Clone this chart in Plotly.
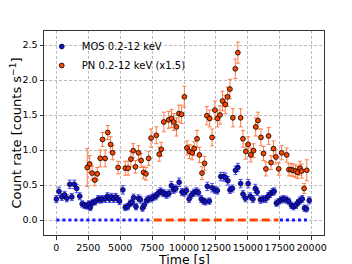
import plotly.graph_objects as go

# MOS 0.2-12 keV light curve
mos_t = [0, 200, 430, 640, 820, 1050, 1210, 1400, 1590, 1830, 2020, 2200, 2390, 2550, 2660,
         2850, 3040, 3280, 3440, 3600, 3820, 4000, 4170, 4330, 4490, 4650, 4810, 4950, 5210,
         5400, 5590, 5780, 5940, 6050, 6240, 6430, 6590, 6750, 6880, 7070, 7230, 7450, 7610,
         7800, 7960, 8150, 8310, 8470, 8630, 8820, 9010, 9190, 9360, 9620, 9840, 10030, 10190,
         10400, 10590, 10780, 10970, 11130, 11350, 11530, 11680, 11830, 11990, 12200, 12420,
         12610, 12880, 13090, 13250, 13440, 13600, 13790, 14030, 14220, 14440, 14620, 14810,
         15030, 15190, 15400, 15590, 15730, 15990, 16210, 16400, 16590, 16750, 16940, 17070,
         17240, 17400, 17600, 17800, 18010, 18200, 18420, 18580, 18770, 18930, 19090, 19270,
         19440, 19600, 19810]
mos_rate = [0.30, 0.41, 0.33, 0.36, 0.31, 0.51, 0.33, 0.51, 0.45, 0.34, 0.23, 0.21, 0.20, 0.23, 0.18,
            0.25, 0.26, 0.30, 0.29, 0.30, 0.30, 0.34, 0.30, 0.33, 0.30, 0.33, 0.30, 0.27, 0.43,
            0.18, 0.19, 0.24, 0.25, 0.32, 0.19, 0.31, 0.29, 0.17, 0.21, 0.28, 0.30, 0.31, 0.33,
            0.34, 0.38, 0.41, 0.39, 0.38, 0.36, 0.38, 0.49, 0.43, 0.45, 0.54, 0.40, 0.39, 0.42,
            0.30, 0.36, 0.39, 0.41, 0.39, 0.30, 0.27, 0.26, 0.48, 0.27, 0.46, 0.43,
            0.42, 0.62, 0.62, 0.61, 0.56, 0.43, 0.45, 0.71, 0.75, 0.52, 0.37, 0.31,
            0.52, 0.34, 0.30, 0.45, 0.40, 0.29, 0.30, 0.30, 0.34, 0.37, 0.40, 0.41,
            0.24, 0.26, 0.29, 0.30, 0.29, 0.27, 0.21, 0.19, 0.21, 0.25, 0.28, 0.30,
            0.17, 0.16, 0.28]
mos_err = [0.05, 0.06, 0.05, 0.05, 0.05, 0.06, 0.05, 0.06, 0.06, 0.05, 0.045, 0.045, 0.045, 0.045, 0.045,
           0.045, 0.045, 0.05, 0.05, 0.05, 0.05, 0.05, 0.05, 0.05, 0.05, 0.05, 0.05, 0.05, 0.06,
           0.045, 0.045, 0.045, 0.045, 0.05, 0.045, 0.05, 0.05, 0.045, 0.045, 0.05, 0.05, 0.05, 0.05,
           0.05, 0.05, 0.05, 0.05, 0.05, 0.05, 0.05, 0.06, 0.05, 0.05, 0.06, 0.05, 0.05, 0.05,
           0.05, 0.05, 0.05, 0.05, 0.05, 0.05, 0.045, 0.045, 0.06, 0.045, 0.06, 0.05,
           0.05, 0.06, 0.06, 0.06, 0.06, 0.05, 0.05, 0.06, 0.06, 0.06, 0.05, 0.05,
           0.06, 0.05, 0.05, 0.06, 0.05, 0.05, 0.05, 0.05, 0.05, 0.05, 0.05, 0.05,
           0.045, 0.045, 0.05, 0.05, 0.05, 0.045, 0.045, 0.045, 0.045, 0.045, 0.05, 0.05,
           0.045, 0.045, 0.05]

# PN 0.2-12 keV light curve (scaled x1.5)
pn_t = [2420, 2610, 2800, 3010, 3200, 3440, 3620, 3820, 4030, 4250, 4410, 4840, 5400, 5620,
        5840, 6020, 6200, 6430, 6640, 6830, 7020, 7230, 7420, 7830, 8060, 8220, 8420, 8800,
        9020, 9190, 9410, 9600, 9810, 10030, 10230, 10430, 10640, 10800, 11020, 11210, 11410,
        11610, 11790, 12010, 12200, 12420, 12620, 12820, 13020, 13230, 13410, 13600, 13830,
        14020, 14220, 14440, 14620, 14840, 15030, 15230, 15450, 15620, 15800, 16030, 16230,
        16420, 16630, 16820, 17010, 17200, 17420, 17650, 18050, 18220, 18390, 18550, 18740,
        18900, 19090, 19220, 19410, 19620]
pn_rate = [0.75, 0.80, 0.67, 0.57, 0.66, 0.88, 1.15, 0.88, 1.25, 1.08, 0.96, 0.75, 0.74, 0.74,
           0.87, 0.99, 0.76, 0.96, 0.85, 0.68, 0.66, 0.88, 1.17, 1.21, 0.94, 1.01, 1.40, 1.43,
           1.45, 1.40, 1.33, 1.52, 1.51, 1.76, 1.03, 0.98, 0.96, 1.02, 1.16, 0.93, 0.67,
           0.81, 1.49, 1.45, 1.18, 1.57, 1.45, 1.50, 1.70, 1.65, 1.76, 1.87, 1.46,
           2.16, 2.39, 1.46, 1.16, 0.98, 1.08, 0.93, 0.99, 1.33, 1.42, 1.18, 0.95,
           0.73, 1.20, 0.82, 1.02, 0.90, 0.73, 0.96, 0.93, 0.72, 0.72, 0.71, 0.70,
           0.68, 0.74, 0.70, 0.45, 0.71]
pn_err = [0.27, 0.12, 0.10, 0.08, 0.09, 0.12, 0.10, 0.12, 0.10, 0.11, 0.10, 0.09, 0.10, 0.10,
          0.11, 0.10, 0.09, 0.10, 0.10, 0.09, 0.09, 0.10, 0.13, 0.12, 0.10, 0.10, 0.14, 0.12,
          0.13, 0.12, 0.13, 0.12, 0.13, 0.15, 0.10, 0.10, 0.10, 0.10, 0.12, 0.11, 0.09,
          0.10, 0.13, 0.12, 0.12, 0.13, 0.12, 0.13, 0.14, 0.13, 0.14, 0.14, 0.13,
          0.14, 0.15, 0.13, 0.12, 0.11, 0.11, 0.10, 0.10, 0.13, 0.12, 0.12, 0.10,
          0.10, 0.12, 0.10, 0.11, 0.10, 0.09, 0.10, 0.10, 0.09, 0.09, 0.09, 0.09,
          0.09, 0.10, 0.10, 0.07, 0.15]

half_bin = 100  # s, half of the time bin

# Time intervals marked along y = 0
gti_blue_1 = [0, 7500]
gti_orange = [7630, 17400]
gti_blue_2 = [17520, 19850]

x_ticks = [0, 2500, 5000, 7500, 10000, 12500, 15000, 17500, 20000]
y_ticks = [0.0, 0.5, 1.0, 1.5, 2.0, 2.5]

fig = go.Figure()

for seg, col, dash in [(gti_blue_1, "#1a1aff", "3px,3px"),
                       (gti_orange, "#ff4500", "8px,4px"),
                       (gti_blue_2, "#1a1aff", "3px,3px")]:
    fig.add_trace(go.Scatter(x=seg, y=[0, 0], mode="lines",
                             line=dict(color=col, width=3, dash=dash),
                             showlegend=False, hoverinfo="skip"))

fig.add_trace(go.Scatter(
    x=mos_t, y=mos_rate, mode="markers", name="MOS 0.2-12 keV",
    marker=dict(color="#1212c8", size=4.8, line=dict(color="#000033", width=0.8)),
    error_y=dict(type="data", array=mos_err, color="#4a4aff", thickness=1, width=2),
    error_x=dict(type="constant", value=half_bin, color="#4a4aff", thickness=1, width=0),
))

fig.add_trace(go.Scatter(
    x=pn_t, y=pn_rate, mode="markers", name="PN 0.2-12 keV (x1.5)",
    marker=dict(color="#ff4500", size=4.8, line=dict(color="#1a0a00", width=0.9)),
    error_y=dict(type="data", array=pn_err, color="#ff7a45", thickness=1, width=2),
    error_x=dict(type="constant", value=half_bin, color="#ff7a45", thickness=1, width=0),
))

axis_common = dict(
    showline=True, linecolor="#333333", linewidth=1, mirror=True,
    ticks="outside", ticklen=3.5, tickwidth=0.8, tickcolor="#333333",
    showgrid=True, gridcolor="#bdbdbd", griddash="3px,2px", gridwidth=0.8,
    zeroline=False, automargin=False, tickangle=0,
    tickfont=dict(family="DejaVu Sans", size=9.5, color="#000000"),
)

# the page body adds an 8px offset, so the figure is 8px smaller and margins compensate
fig.update_layout(
    width=344, height=256,
    margin=dict(l=36, r=28, t=23, b=29),
    paper_bgcolor="white", plot_bgcolor="white",
    font=dict(family="DejaVu Sans", color="#000000"),
    xaxis=dict(range=[-970, 20970], tickvals=x_ticks, ticktext=[str(v) for v in x_ticks],
               **axis_common),
    yaxis=dict(range=[-0.214, 2.70], tickvals=y_ticks, ticktext=[f"{v:.1f}" for v in y_ticks],
               title=dict(text="Count rate [counts s<sup>−1</sup>]", font=dict(size=13), standoff=3),
               **axis_common),
    legend=dict(x=-0.008, y=0.995, xanchor="left", yanchor="top", bgcolor="rgba(255,255,255,0)",
                font=dict(family="DejaVu Sans", size=10), tracegroupgap=0, itemwidth=30),
    showlegend=True,
    annotations=[dict(text="Time [s]", xref="paper", yref="paper", x=0.5, y=-0.078,
                      xanchor="center", yanchor="top", showarrow=False, borderpad=0,
                      font=dict(family="DejaVu Sans", size=12.5, color="#000000"))],
)

fig.write_html("out.html")
